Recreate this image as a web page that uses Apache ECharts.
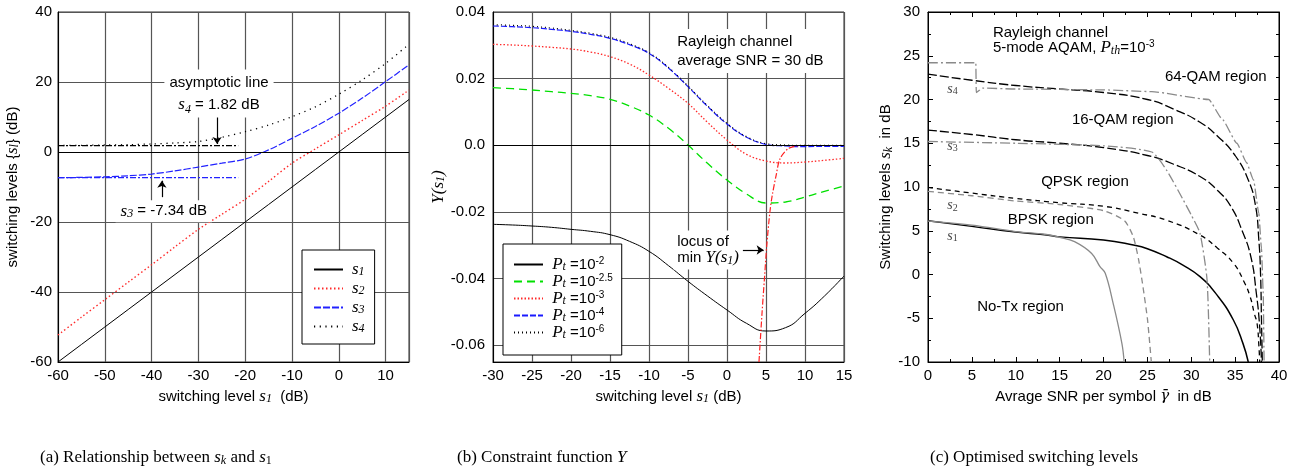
<!DOCTYPE html>
<html>
<head>
<meta charset="utf-8">
<script src="https://cdn.jsdelivr.net/npm/echarts@6.0.0/dist/echarts.min.js"></script>
<style>
html,body{margin:0;padding:0;background:#fff;}
#chart{width:1303px;height:474px;}
</style>
</head>
<body>
<div id="chart"></div>
<script>
// ---------- Panel (a): relationship between s_k and s_1 ----------
const aX  = [-60,-55,-50,-45,-40,-35,-30,-25,-20,-15,-10,-5,0,5,10,15];
const aS1 = [-60,-55,-50,-45,-40,-35,-30,-25,-20,-15,-10,-5,0,5,10,15];
const aS2 = [-52.3,-47.2,-42.2,-37.2,-32.2,-27.1,-22.1,-17.8,-13.5,-8.4,-3.2,0.9,4.9,9.0,13.1,17.7];
const aS3 = [-7.34,-7.25,-7.1,-6.8,-6.3,-5.4,-4.3,-3.2,-2.0,0.6,3.9,7.3,11.1,15.4,20.1,24.9];
const aS4 = [1.85,1.9,2.0,2.1,2.3,2.6,3.0,4.2,5.8,7.7,10.1,12.9,16.5,20.6,25.3,30.8];
const aAsymX  = [-60,-21.5];
const aAsymS4 = [1.82,1.82];
const aAsymS3 = [-7.34,-7.34];

// ---------- Panel (b): constraint function Y ----------
const bX    = [-30,-27.5,-25,-22.5,-20,-17.5,-15,-12.5,-10,-7.5,-5,-2.5,0,2.5,5,7.5,10,12.5,15];
const bPt2  = [-0.0237,-0.0239,-0.0242,-0.0246,-0.0252,-0.0258,-0.0268,-0.0288,-0.0318,-0.0361,-0.0408,-0.0452,-0.0494,-0.0534,-0.0557,-0.0547,-0.0504,-0.0452,-0.0392];
const bPt25 = [0.0173,0.0170,0.0166,0.0161,0.0156,0.0149,0.0138,0.0118,0.0091,0.0051,0.0001,-0.0054,-0.0104,-0.0146,-0.0173,-0.0170,-0.0155,-0.0138,-0.0122];
const bPt3  = [0.0303,0.0301,0.0298,0.0294,0.0289,0.0280,0.0266,0.0244,0.0211,0.0171,0.0126,0.0069,0.0016,-0.0027,-0.0047,-0.0053,-0.0050,-0.0045,-0.0039];
const bPt4  = [0.0358,0.0356,0.0353,0.0348,0.0342,0.0333,0.0321,0.0302,0.0276,0.0232,0.0176,0.0117,0.0064,0.0024,0.0003,-0.0002,-0.0004,-0.0003,-0.0003];
const bPt6  = [0.0362,0.0360,0.0357,0.0352,0.0345,0.0336,0.0324,0.0305,0.0278,0.0234,0.0178,0.0119,0.0066,0.0026,0.0005,0.0001,0.0,0.0,0.0];
const bLocusX = [4.1,4.5,4.8,5.1,5.5,5.8,6.3,6.8,7.9,9.4];
const bLocusY = [-0.065,-0.05,-0.04,-0.03,-0.02,-0.015,-0.009,-0.004,-0.0009,0];

// ---------- Panel (c): optimised switching levels (k = black, g = grey) ----------
const cS1kX = [0,5,10,13.3,15,20,23.4,25,27.2,29,31,32.9,34.8,35.9,36.5];
const cS1kY = [6.15,5.5,4.85,4.55,4.3,3.95,3.37,2.95,2.03,1.1,-0.25,-2.3,-5.2,-7.9,-10];
const cS1gX = [0,5,10,13.3,15,16.7,18.65,19.6,20.2,21.1,22.1,22.35];
const cS1gY = [6.1,5.65,4.9,4.6,4.25,3.75,2.4,0.9,0.14,-3.3,-7.9,-10];
const cS2kX = [0,5,10,15,20,24,27.2,31,33,34.8,36,36.7,37.2,37.5,37.7,37.8];
const cS2kY = [9.95,9.3,8.7,8.2,7.8,7.0,6.2,4.5,3.0,1.3,-0.8,-2.5,-4.5,-5.6,-8,-10];
const cS2gX = [0,5,10,15,20,22.4,23.4,24,24.5,25,25.2,25.45];
const cS2gY = [9.5,9.0,8.4,8.0,7.3,6.15,4.3,1.7,-1.4,-5,-7.1,-10];
const cS3kX = [0,5,10,15,20,25,28,31,33,34.5,35.8,36.8,37.4,37.8,38.0];
const cS3kY = [16.5,16.0,15.4,15.0,14.5,13.6,12.6,11.2,9.6,7.8,5,2,-2,-6,-10];
const cS3gX = [0,10,20,25.5,27.2,29.1,30,31,31.8,32.1];
const cS3gY = [15.2,15.0,14.7,14.0,11.9,8.5,6.8,4.7,-0.6,-10];
const cS4kX = [0,5,10,15,20,25,28,31,33,35,36.5,37.3,37.7,37.9,38.0,38.1];
const cS4kY = [22.9,22.2,21.6,21.2,20.8,20.0,18.9,17.4,15.8,13.6,10.8,8,4,0,-5,-10];
const cS4gX = [0,5.45,5.5,6.2,10,20,25.5,32,33.5,35.2,36.3,37.1,37.7,38.0,38.2,38.3];
const cS4gY = [24.2,24.2,20.8,21.3,21.2,21.1,20.9,20.0,17.8,15.0,12.8,10.8,7,3,-2,-10];

// ---------- styling ----------
const SANS = 'Liberation Sans', SERIF = 'Liberation Serif';
const R = {
  it:  {fontFamily:SERIF, fontStyle:'italic', fontSize:17, lineHeight:17},
  itr: {fontFamily:SERIF, fontSize:17, lineHeight:17},
  gam: {fontFamily:'DejaVu Serif', fontStyle:'italic', fontSize:15, lineHeight:17},
  sub: {fontFamily:SERIF, fontStyle:'italic', fontSize:12, lineHeight:10, verticalAlign:'bottom'},
  subr:{fontFamily:SERIF, fontSize:12, lineHeight:10, verticalAlign:'bottom'},
  n:   {fontFamily:SANS, fontSize:15, lineHeight:17},
  sup: {fontFamily:SANS, fontSize:10, lineHeight:10, verticalAlign:'top'},
  ci:  {fontFamily:SERIF, fontStyle:'italic', fontSize:17, lineHeight:18},
  cs:  {fontFamily:SERIF, fontStyle:'italic', fontSize:12, lineHeight:11, verticalAlign:'bottom'},
  csr: {fontFamily:SERIF, fontSize:12, lineHeight:11, verticalAlign:'bottom'},
  ck:  {fontFamily:SERIF, fontStyle:'italic', fontSize:14, lineHeight:15, fill:'#444'},
  cks: {fontFamily:SERIF, fontSize:10, lineHeight:9, verticalAlign:'bottom', fill:'#444'}
};
const pairs = (xs, ys) => xs.map((x, i) => [x, ys[i]]);
function lineSeries(name, gi, xs, ys, color, width, type, extra) {
  return Object.assign({
    name, type:'line', xAxisIndex:gi, yAxisIndex:gi, data:pairs(xs, ys),
    symbol:'none', showSymbol:false, smooth:0.3, silent:true, animation:false,
    lineStyle:{color, width, type}, itemStyle:{color}, z:3
  }, extra || {});
}
const labelStyle = {color:'#000', fontFamily:SANS, fontSize:15};
const nameStyle = {color:'#000', fontFamily:SANS, fontSize:15, lineHeight:17, rich:R};
const gridLine = {show:true, lineStyle:{color:'#555', width:1.2}};
const axisLineK = {show:true, onZero:false, lineStyle:{color:'#000', width:1}};
const tickIn = {show:true, inside:true, length:5, lineStyle:{color:'#000'}};
const minorIn = {show:true, splitNumber:2, length:3, lineStyle:{color:'#000'}};

const arrowMark = (pts) => pts.map(p => [{coord:p[0], symbol:'none'}, {coord:p[1], symbol:'arrow', symbolSize:7}]);

const series = [
  lineSeries('a1', 0, aX, aS1, '#000', 1, 'solid', {smooth:false, markLine:{
    silent:true, animation:false, symbol:['none','none'], label:{show:false},
    lineStyle:{color:'#000', type:'solid', width:1.2},
    data:[{yAxis:0}].concat(arrowMark([[[-26,10.6],[-26,2.3]], [[-37.8,-12.9],[-37.8,-8.2]]]))
  }}),
  lineSeries('a2', 0, aX, aS2, '#ff2a2a', 1.4, [1.5,2.5]),
  lineSeries('a3', 0, aX, aS3, '#2222ff', 1.2, [7,2]),
  lineSeries('a4', 0, aX, aS4, '#000', 1.3, [1.2,4.5]),
  lineSeries('aAs4', 0, aAsymX, aAsymS4, '#000', 1.2, [6,2,2,2], {smooth:false}),
  lineSeries('aAs3', 0, aAsymX, aAsymS3, '#2222ff', 1.2, [6,2,2,2], {smooth:false}),

  lineSeries('b2', 1, bX, bPt2, '#000', 1, 'solid', {smooth:0.5, markLine:{
    silent:true, animation:false, symbol:['none','none'], label:{show:false},
    lineStyle:{color:'#000', type:'solid', width:1.2},
    data:[{yAxis:0}].concat(arrowMark([[[0.9,-0.0314],[4.7,-0.0314]]]))
  }}),
  lineSeries('b25', 1, bX, bPt25, '#00e000', 1.3, [8,5], {smooth:0.4}),
  lineSeries('b3', 1, bX, bPt3, '#ff2a2a', 1.3, [1.5,2], {smooth:0.4}),
  lineSeries('b4', 1, bX, bPt4, '#1a1aff', 1.2, [6,2], {smooth:0.4}),
  lineSeries('b6', 1, bX, bPt6, '#000', 1.2, [1,3], {smooth:0.4}),
  lineSeries('bLoc', 1, bLocusX, bLocusY, '#ff2020', 1.2, [6,2,1.5,2]),

  lineSeries('c1k', 2, cS1kX, cS1kY, '#000', 1.5, 'solid', {smooth:0.5}),
  lineSeries('c1g', 2, cS1gX, cS1gY, '#8a8a8a', 1.3, 'solid', {smooth:0.4}),
  lineSeries('c2k', 2, cS2kX, cS2kY, '#000', 1.3, [5,4], {smooth:0.5}),
  lineSeries('c2g', 2, cS2gX, cS2gY, '#8a8a8a', 1.3, [6,4], {smooth:0.2}),
  lineSeries('c3k', 2, cS3kX, cS3kY, '#000', 1.3, [9,3], {smooth:0.5}),
  lineSeries('c3g', 2, cS3gX, cS3gY, '#8a8a8a', 1.3, [10,3,2,3], {smooth:0.2}),
  lineSeries('c4k', 2, cS4kX, cS4kY, '#000', 1.3, [9,3], {smooth:0.5}),
  lineSeries('c4g', 2, cS4gX, cS4gY, '#8a8a8a', 1.3, [10,3,2,3], {smooth:0.15, smoothMonotone:'x'})
];

const LEG_A = {a1:' {it|s}{sub|1}', a2:' {it|s}{sub|2}', a3:' {it|s}{sub|3}', a4:' {it|s}{sub|4}'};
const LEG_B = {b2:' {it|P}{sub|t}{n| =10}{sup|-2}', b25:' {it|P}{sub|t}{n| =10}{sup|-2.5}', b3:' {it|P}{sub|t}{n| =10}{sup|-3}', b4:' {it|P}{sub|t}{n| =10}{sup|-4}', b6:' {it|P}{sub|t}{n| =10}{sup|-6}'};
const hideSymbol = {color:'rgba(0,0,0,0)', borderWidth:0, borderColor:'rgba(0,0,0,0)', opacity:0};

const option = {
  animation:false,
  backgroundColor:'#fff',
  grid:[
    {left:58, top:12, width:351, height:350, show:true, borderColor:'#333', borderWidth:1},
    {left:493, top:12, width:351, height:350, show:true, borderColor:'#333', borderWidth:1},
    {left:928, top:12, width:351, height:350, show:true, borderColor:'#000', borderWidth:1}
  ],
  xAxis:[
    {gridIndex:0, type:'value', min:-60, max:15, interval:10, axisLine:axisLineK, axisTick:{show:false}, splitLine:gridLine,
     axisLabel:Object.assign({margin:6, showMaxLabel:false}, labelStyle),
     name:'switching level {it|s}{sub|1}  (dB)', nameLocation:'middle', nameGap:22, nameTextStyle:nameStyle},
    {gridIndex:1, type:'value', min:-30, max:15, interval:5, axisLine:axisLineK, axisTick:{show:false}, splitLine:gridLine,
     axisLabel:Object.assign({margin:6}, labelStyle),
     name:'switching level {it|s}{sub|1} (dB)', nameLocation:'middle', nameGap:22, nameTextStyle:nameStyle},
    {gridIndex:2, type:'value', min:0, max:40, interval:5, axisLine:axisLineK, axisTick:tickIn, minorTick:minorIn, splitLine:{show:false},
     axisLabel:Object.assign({margin:6}, labelStyle),
     name:'Avrage SNR per symbol {gam|γ\u0304}  in dB', nameLocation:'middle', nameGap:22, nameTextStyle:nameStyle},
    {gridIndex:2, type:'value', position:'top', min:0, max:40, interval:5, axisLine:axisLineK, axisTick:tickIn, minorTick:minorIn, splitLine:{show:false}, axisLabel:{show:false}}
  ],
  yAxis:[
    {gridIndex:0, type:'value', min:-60, max:40, interval:20, axisLine:axisLineK, axisTick:{show:false}, splitLine:gridLine,
     axisLabel:Object.assign({margin:6}, labelStyle),
     name:'switching levels {' + '{it|s}{sub|l}' + '} (dB)', nameLocation:'middle', nameRotate:90, nameGap:37, nameTextStyle:nameStyle},
    {gridIndex:1, type:'value', min:-0.065, max:0.04, splitNumber:5, axisLine:axisLineK, axisTick:{show:false}, splitLine:gridLine,
     axisLabel:Object.assign({margin:8, showMinLabel:false, formatter:v => Math.abs(v) < 1e-9 ? '0.0' : v.toFixed(2)}, labelStyle),
     name:'{it|Y(s}{sub|1}{it|)}', nameLocation:'middle', nameRotate:90, nameGap:45, nameTextStyle:nameStyle},
    {gridIndex:2, type:'value', min:-10, max:30, interval:5, axisLine:axisLineK, axisTick:tickIn, minorTick:minorIn, splitLine:{show:false},
     axisLabel:Object.assign({margin:8}, labelStyle),
     name:'Switching levels {it|s}{sub|k}  in dB', nameLocation:'middle', nameRotate:90, nameGap:32, nameTextStyle:nameStyle},
    {gridIndex:2, type:'value', position:'right', min:-10, max:30, interval:5, axisLine:axisLineK, axisTick:tickIn, minorTick:minorIn, splitLine:{show:false}, axisLabel:{show:false}}
  ],
  legend:[
    {data:['a1','a2','a3','a4'], orient:'vertical', left:302, top:250, itemWidth:29, itemHeight:14, itemGap:2,
     padding:[11,10,9,11], borderColor:'#000', borderWidth:1, backgroundColor:'#fff', selectedMode:false,
     itemStyle:hideSymbol,
     formatter:n => LEG_A[n], textStyle:{fontFamily:SERIF, fontSize:16, color:'#000', lineHeight:17, rich:R}},
    {data:['b2','b25','b3','b4','b6'], orient:'vertical', left:503, top:244, itemWidth:29, itemHeight:14, itemGap:0,
     padding:[12,9,14,10], borderColor:'#000', borderWidth:1, backgroundColor:'#fff', selectedMode:false,
     itemStyle:hideSymbol,
     formatter:n => LEG_B[n], textStyle:{fontFamily:SANS, fontSize:15, color:'#000', lineHeight:17, rich:R}}
  ],
  series
};

const chart = echarts.init(document.getElementById('chart'), null, {renderer:'canvas'});
chart.setOption(option);

// ---------- annotations (positioned through the axes) ----------
const G = [];
function addText(gi, x, y, text, st) {
  const p = chart.convertToPixel({xAxisIndex:gi, yAxisIndex:gi}, [x, y]);
  G.push({type:'text', x:p[0], y:p[1], z:100, silent:true,
    style:Object.assign({text, fill:'#000', font:'15px "Liberation Sans"', rich:R,
      textAlign:'left', textVerticalAlign:'middle', align:'left', verticalAlign:'middle'}, st || {})});
}
function addPixText(x, y, text, st) {
  G.push({type:'text', x, y, z:100, silent:true,
    style:Object.assign({text, fill:'#000', font:'17px "Liberation Serif"', rich:R,
      textAlign:'left', textVerticalAlign:'middle', align:'left', verticalAlign:'middle'}, st || {})});
}
const white = {backgroundColor:'#fff', padding:[2,5]};
// (a)
addText(0, -25.6, 16.7, 'asymptotic line\n{it|s}{sub|4} = 1.82 dB',
  Object.assign({textAlign:'center', align:'center', lineHeight:22}, white));
addText(0, -37.4, -16.9, '{it|s}{sub|3} = -7.34 dB', Object.assign({textAlign:'center', align:'center', lineHeight:18}, white));
// (b)
addText(1, -6.9, 0.0283, 'Rayleigh channel\naverage SNR = 30 dB', {lineHeight:19, backgroundColor:'#fff', padding:[3,4]});
addText(1, -6.9, -0.0314, 'locus of\nmin {it|Y(s}{sub|1}{it|)}', {lineHeight:16, backgroundColor:'#fff', padding:[3,4]});
// (c)
addText(2, 7.4, 27.6, 'Rayleigh channel');
addText(2, 7.4, 25.9, '5-mode AQAM, {it|P}{sub|th}=10{sup|-3}', {lineHeight:17});
addText(2, 27.0, 22.6, '64-QAM region');
addText(2, 16.4, 17.7, '16-QAM region');
addText(2, 12.9, 10.6, 'QPSK region');
addText(2, 9.1, 6.2, 'BPSK region');
addText(2, 5.6, -3.7, 'No-Tx region');
addText(2, 2.8, 21.2, '{ck|s}{cks|4}', {textAlign:'center', align:'center'});
addText(2, 2.8, 14.7, '{ck|s}{cks|3}', {textAlign:'center', align:'center'});
addText(2, 2.8, 7.9, '{ck|s}{cks|2}', {textAlign:'center', align:'center'});
addText(2, 2.8, 4.4, '{ck|s}{cks|1}', {textAlign:'center', align:'center'});
// captions
addPixText(40, 458, '(a) Relationship between {ci|s}{cs|k} and {ci|s}{csr|1}');
addPixText(457, 458, '(b) Constraint function {ci|Y}');
addPixText(930, 458, '(c) Optimised switching levels');
chart.setOption({graphic:G});
</script>
</body>
</html>
